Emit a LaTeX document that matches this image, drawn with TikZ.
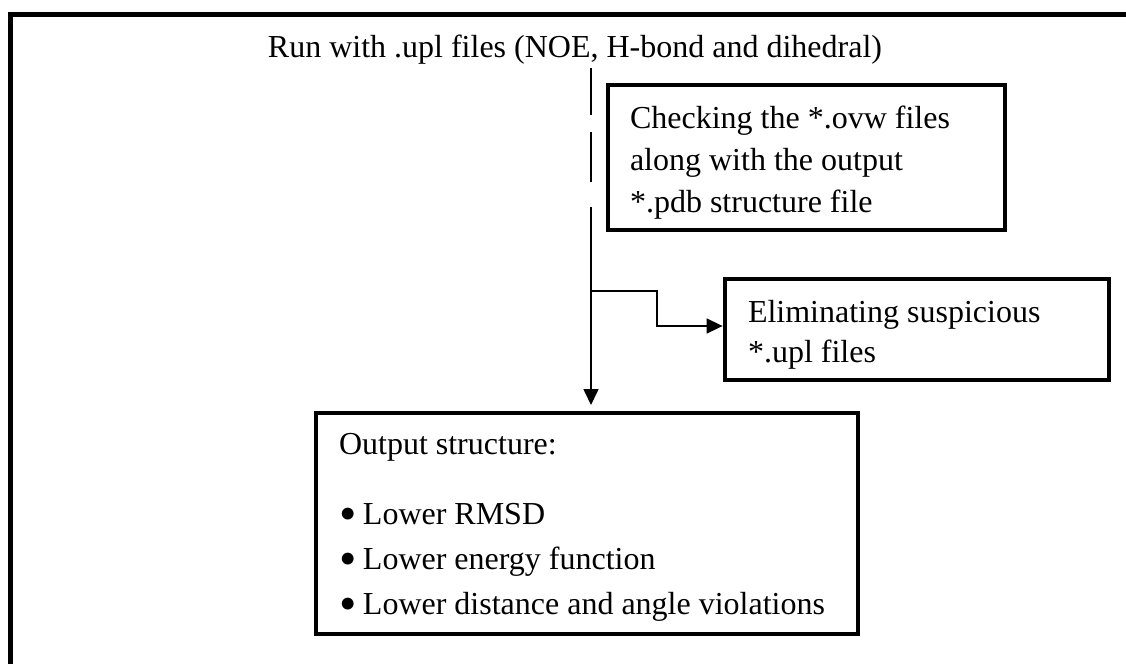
\documentclass[tikz,border=0pt]{standalone}
\usepackage{fontspec}
\usepackage{graphicx}
\setmainfont{Liberation Serif}
\usetikzlibrary{arrows.meta}

% list bullet, a little heavier than the text bullet
\newcommand\listdot{\raisebox{-2.9pt}{\scalebox{1.55}{•}}\hspace{3.3pt}}
% invisible prop that sets the height of a box's first line
\newcommand\firstline[1]{\rule{0pt}{#1}}

\tikzset{
  framepen/.style={line width=2.4pt},
  procbox/.style={draw, line width=2.4pt, outer sep=0pt, anchor=north west,
    align=flush left, inner ysep=0pt},
  link/.style={line width=0.8pt},
  tip/.style={-{Triangle[length=8pt,width=7.5pt]}},
  bodyfont/.style={font=\fontsize{16}{21}\selectfont},
}

\begin{document}
\begin{tikzpicture}[x=0.5pt, y=-0.5pt, bodyfont]
  \useasboundingbox (0,0) rectangle (1126,664);

  % open frame: top and left edges run off the page
  \draw[framepen] (10.8,700) -- (10.8,14.8) -- (1160,14.8);

  % heading
  \node[anchor=base, inner sep=2pt] (title) at (575,57)
    {Run with .upl files (NOE, H-bond and dihedral)};

  % check box
  \node[procbox, inner xsep=11pt, text width=176.5pt,
        minimum width=198.5pt, minimum height=72.5pt,
        font=\fontsize{16}{21}\selectfont] (check) at (608,85)
    {\firstline{16pt}Checking the *.ovw files\\along with the output\\{}*.pdb structure file};

  % elimination box
  \node[procbox, inner xsep=11.5pt, text width=169pt,
        minimum width=192pt, minimum height=50.5pt,
        font=\fontsize{16}{20}\selectfont] (elim) at (725,279)
    {\firstline{16.5pt}Eliminating suspicious\\{}*.upl files};

  % result box
  \node[procbox, inner xsep=11.5pt, text width=248pt,
        minimum width=271pt, minimum height=110.5pt,
        font=\fontsize{16}{22.5}\selectfont] (out) at (316,413)
    {\firstline{14.5pt}Output structure:\\[12.5pt]
     \listdot Lower RMSD\\
     \listdot Lower energy function\\
     \listdot Lower distance and angle violations};

  % main flow line
  \coordinate (vx) at (591,0);
  \coordinate (vbreak) at (591,207);
  \coordinate (bstart) at (591,291);
  \coordinate (bturn) at (657,291);

  \draw[link, dash pattern=on 23.5pt off 8.5pt on 25pt off 12.5pt]
    (title.south -| vx) -- (vbreak);
  \draw[link, tip, shorten >=4pt] (vbreak) -- (out.north -| vx);

  % side branch to the elimination box
  \draw[link, tip, shorten >=1.2pt]
    (bstart) -- (bturn) |- ([yshift=1.75pt]elim.west);
\end{tikzpicture}
\end{document}
